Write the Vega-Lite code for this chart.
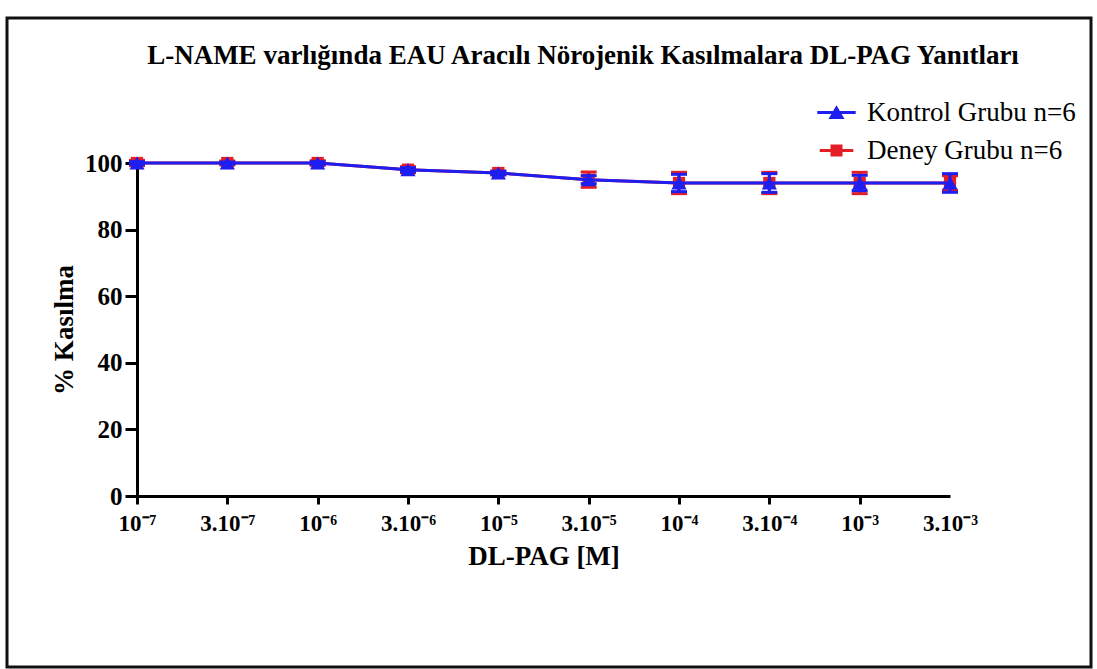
{
  "$schema": "https://vega.github.io/schema/vega-lite/v6.json",
  "autosize": {"type": "none"},
  "width": 1084,
  "height": 649,
  "padding": {"left": 7, "top": 18, "right": 6, "bottom": 2},
  "background": "white",
  "config": {
    "view": {"stroke": "#111111", "strokeWidth": 3},
    "font": "Liberation Serif"
  },
  "title": {
    "text": "L-NAME varlığında  EAU Aracılı Nörojenik Kasılmalara DL-PAG Yanıtları",
    "font": "Liberation Serif",
    "fontSize": 27,
    "fontWeight": "bold",
    "color": "black",
    "anchor": "middle",
    "frame": "group",
    "offset": -52,
    "dx": 34
  },
  "data": {
    "values": [
      {"dose": "10⁻⁷", "group": "Deney Grubu n=6", "mean": 100, "sem": 0.8},
      {"dose": "3.10⁻⁷", "group": "Deney Grubu n=6", "mean": 100, "sem": 0.6},
      {"dose": "10⁻⁶", "group": "Deney Grubu n=6", "mean": 100, "sem": 0.7},
      {"dose": "3.10⁻⁶", "group": "Deney Grubu n=6", "mean": 98, "sem": 0.9},
      {"dose": "10⁻⁵", "group": "Deney Grubu n=6", "mean": 97, "sem": 0.6},
      {"dose": "3.10⁻⁵", "group": "Deney Grubu n=6", "mean": 95, "sem": 2.3},
      {"dose": "10⁻⁴", "group": "Deney Grubu n=6", "mean": 94, "sem": 3.2},
      {"dose": "3.10⁻⁴", "group": "Deney Grubu n=6", "mean": 94, "sem": 3.2},
      {"dose": "10⁻³", "group": "Deney Grubu n=6", "mean": 94, "sem": 3.2},
      {"dose": "3.10⁻³", "group": "Deney Grubu n=6", "mean": 94, "sem": 2.2},
      {"dose": "10⁻⁷", "group": "Kontrol Grubu  n=6", "mean": 100, "sem": 0.4},
      {"dose": "3.10⁻⁷", "group": "Kontrol Grubu  n=6", "mean": 100, "sem": 0.3},
      {"dose": "10⁻⁶", "group": "Kontrol Grubu  n=6", "mean": 100, "sem": 0.4},
      {"dose": "3.10⁻⁶", "group": "Kontrol Grubu  n=6", "mean": 98, "sem": 0.6},
      {"dose": "10⁻⁵", "group": "Kontrol Grubu  n=6", "mean": 97, "sem": 0.5},
      {"dose": "3.10⁻⁵", "group": "Kontrol Grubu  n=6", "mean": 95, "sem": 1.2},
      {"dose": "10⁻⁴", "group": "Kontrol Grubu  n=6", "mean": 94, "sem": 2.6},
      {"dose": "3.10⁻⁴", "group": "Kontrol Grubu  n=6", "mean": 94, "sem": 2.8},
      {"dose": "10⁻³", "group": "Kontrol Grubu  n=6", "mean": 94, "sem": 2.3},
      {"dose": "3.10⁻³", "group": "Kontrol Grubu  n=6", "mean": 94, "sem": 2.8}
    ]
  },
  "encoding": {
    "x": {
      "field": "dose",
      "type": "ordinal",
      "scale": {
        "type": "point",
        "padding": 0,
        "domain": ["10⁻⁷", "3.10⁻⁷", "10⁻⁶", "3.10⁻⁶", "10⁻⁵", "3.10⁻⁵", "10⁻⁴", "3.10⁻⁴", "10⁻³", "3.10⁻³"],
        "range": [130, 943]
      },
      "axis": {
        "title": "DL-PAG [M]",
        "offset": -171,
        "labelAngle": 0,
        "labelFont": "Liberation Serif",
        "labelFontSize": 23,
        "labelFontWeight": "bold",
        "labelColor": "black",
        "labelPadding": 8,
        "domainColor": "black",
        "domainWidth": 3,
        "tickColor": "black",
        "tickWidth": 3,
        "tickSize": 8,
        "tickOpacity": {"condition": {"test": "datum.value === '3.10⁻³'", "value": 0}, "value": 1},
        "grid": false,
        "titleFont": "Liberation Serif",
        "titleFontSize": 27,
        "titleFontWeight": "bold",
        "titleColor": "black",
        "titlePadding": 8
      }
    },
    "y": {
      "field": "mean",
      "type": "quantitative",
      "scale": {"domain": [0, 100], "range": [478, 145], "nice": false, "zero": false},
      "axis": {
        "title": "% Kasılma",
        "offset": -130,
        "values": [0, 20, 40, 60, 80, 100],
        "labelFont": "Liberation Serif",
        "labelFontSize": 25,
        "labelFontWeight": "bold",
        "labelColor": "black",
        "labelPadding": 3,
        "domainColor": "black",
        "domainWidth": 3,
        "tickColor": "black",
        "tickWidth": 3,
        "tickSize": 12,
        "grid": false,
        "titleFont": "Liberation Serif",
        "titleFontSize": 27,
        "titleFontWeight": "bold",
        "titleColor": "black",
        "titlePadding": 6
      }
    }
  },
  "layer": [
    {
      "transform": [{"filter": "datum.group === 'Deney Grubu n=6'"}],
      "layer": [
        {"mark": {"type": "errorbar", "color": "#e31e26", "thickness": 3, "ticks": {"size": 16, "thickness": 3, "opacity": 1}}, "encoding": {"yError": {"field": "sem"}}},
        {"mark": {"type": "line", "color": "#e31e26", "strokeWidth": 3}, "encoding": {}},
        {"mark": {"type": "point", "shape": "square", "filled": true, "opacity": 1, "color": "#e31e26", "size": 150}}
      ]
    },
    {
      "transform": [{"filter": "datum.group === 'Kontrol Grubu  n=6'"}],
      "layer": [
        {"mark": {"type": "errorbar", "color": "#1e1ef0", "thickness": 3, "ticks": {"size": 16, "thickness": 3, "opacity": 1}}, "encoding": {"yError": {"field": "sem"}}},
        {"mark": {"type": "line", "color": "#1e1ef0", "strokeWidth": 3}, "encoding": {}},
        {"mark": {"type": "point", "shape": "triangle-up", "filled": true, "opacity": 1, "color": "#1e1ef0", "size": 230}}
      ]
    },
    {
      "mark": {"type": "point", "filled": true, "opacity": 0, "size": 256},
      "encoding": {
        "color": {
          "field": "group",
          "type": "nominal",
          "scale": {
            "domain": ["Kontrol Grubu  n=6", "Deney Grubu n=6"],
            "range": ["#1e1ef0", "#e31e26"]
          },
          "legend": {
            "title": null,
            "orient": "none",
            "legendX": 816,
            "legendY": 81,
            "padding": 0,
            "rowPadding": 10,
            "symbolSize": 256,
            "symbolOpacity": 1,
            "symbolStrokeWidth": 0,
            "labelFont": "Liberation Serif",
            "labelFontSize": 27,
            "labelColor": "black",
            "labelOffset": 17,
            "labelLimit": 400
          }
        },
        "shape": {
          "field": "group",
          "type": "nominal",
          "scale": {
            "domain": ["Kontrol Grubu  n=6", "Deney Grubu n=6"],
            "range": [
              "M-2.4,-0.19H2.4V0.19H-2.4Z M0,-0.9L1,0.8H-1Z",
              "M-2.1,-0.19H2.1V0.19H-2.1Z M-0.75,-0.75H0.75V0.75H-0.75Z"
            ]
          },
          "legend": {
            "title": null,
            "orient": "none",
            "legendX": 816,
            "legendY": 81,
            "padding": 0,
            "rowPadding": 10,
            "symbolSize": 256,
            "symbolOpacity": 1,
            "symbolStrokeWidth": 0,
            "labelFont": "Liberation Serif",
            "labelFontSize": 27,
            "labelColor": "black",
            "labelOffset": 17,
            "labelLimit": 400
          }
        }
      }
    }
  ]
}
